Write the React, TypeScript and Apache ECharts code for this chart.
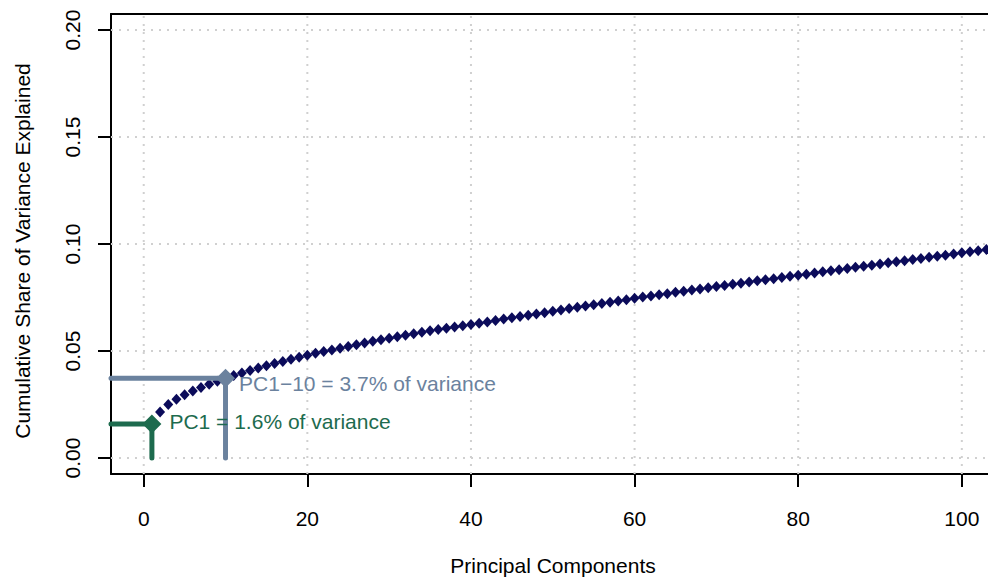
import React, { useEffect, useRef } from "react";
import * as echarts from "echarts";

const cumulativeShare: number[] = [
  0.0159, 0.0215, 0.025, 0.0274, 0.0295, 0.0313, 0.0329, 0.0344, 0.0358, 0.0372,
  0.0385, 0.0397, 0.0409, 0.042, 0.0431, 0.0441, 0.0451, 0.0461, 0.0471, 0.048,
  0.0489, 0.0497, 0.0505, 0.0513, 0.0521, 0.0529, 0.0537, 0.0545, 0.0552, 0.0559,
  0.0566, 0.0573, 0.058, 0.0587, 0.0594, 0.06, 0.0606, 0.0612, 0.0618, 0.0624,
  0.063, 0.0636, 0.0643, 0.0649, 0.0655, 0.0661, 0.0667, 0.0673, 0.0679, 0.0686,
  0.0692, 0.0698, 0.0704, 0.071, 0.0716, 0.0722, 0.0728, 0.0734, 0.074, 0.0746,
  0.0752, 0.0757, 0.0763, 0.0768, 0.0774, 0.0779, 0.0785, 0.079, 0.0796, 0.0801,
  0.0806, 0.0812, 0.0817, 0.0822, 0.0828, 0.0833, 0.0838, 0.0844, 0.0849, 0.0854,
  0.0859, 0.0865, 0.087, 0.0875, 0.088, 0.0886, 0.0891, 0.0896, 0.0901, 0.0907,
  0.0912, 0.0917, 0.0922, 0.0927, 0.0932, 0.0938, 0.0943, 0.0948, 0.0953, 0.0959,
  0.0964, 0.0969, 0.0974, 0.0979,
];

const xTicks: number[] = [0, 20, 40, 60, 80, 100];
const yTicks: number[] = [0, 0.05, 0.1, 0.15, 0.2];

const annotations = [
  { pc: 1, value: 0.0159, text: "PC1 = 1.6% of variance", color: "#1d6b4e", distance: 8, dy: -2 },
  { pc: 10, value: 0.0372, text: "PC1\u221210 = 3.7% of variance", color: "#6b829e", distance: 4, dy: 5 },
];

const X_MIN = -4;
const X_MAX = 103.2;
const Y_MIN = -0.0075;
const Y_MAX = 0.2075;

const FONT = "'Liberation Sans', Arial, Helvetica, sans-serif";

export default function App() {
  const ref = useRef<HTMLDivElement>(null);

  useEffect(() => {
    if (!ref.current) return;
    const chart = echarts.init(ref.current, undefined, { renderer: "svg" });

    const gridStyle = { color: "#d0d0d0", width: 2, type: [2, 6] as any };

    const gridSeries: any[] = [];
    xTicks.forEach((t) => {
      gridSeries.push({
        type: "line",
        data: [[t, Y_MIN], [t, Y_MAX]],
        showSymbol: false,
        silent: true,
        lineStyle: gridStyle,
        z: 1,
      });
    });
    yTicks.forEach((t) => {
      gridSeries.push({
        type: "line",
        data: [[X_MIN, t], [X_MAX, t]],
        showSymbol: false,
        silent: true,
        lineStyle: gridStyle,
        z: 1,
      });
    });

    const annSeries: any[] = [];
    annotations.forEach((a) => {
      annSeries.push({
        type: "line",
        data: [[X_MIN, a.value], [a.pc, a.value], [a.pc, 0]],
        showSymbol: false,
        silent: true,
        lineStyle: { color: a.color, width: 5, cap: "round", join: "miter", opacity: 1 },
        z: 4,
      });
      annSeries.push({
        type: "scatter",
        data: [[a.pc, a.value]],
        symbol: "diamond",
        symbolSize: 19,
        itemStyle: { color: a.color, opacity: 1 },
        silent: true,
        label: {
          show: true,
          position: "right",
          distance: a.distance,
          offset: [0, a.dy],
          formatter: a.text,
          color: a.color,
          opacity: 1,
          fontSize: 21,
          fontFamily: FONT,
        },
        z: 5,
      });
    });

    const option: any = {
      animation: false,
      grid: { left: 111, right: 0, top: 14, bottom: 106, containLabel: false },
      xAxis: [
        {
          type: "value",
          min: X_MIN,
          max: X_MAX,
          position: "bottom",
          axisLine: { show: true, onZero: false, lineStyle: { color: "#000", width: 2 } },
          axisTick: { show: true, customValues: xTicks, length: 13, lineStyle: { color: "#000", width: 2 } },
          axisLabel: {
            show: true,
            customValues: xTicks,
            margin: 34,
            fontSize: 21,
            color: "#000",
            fontFamily: FONT,
          },
          splitLine: { show: false },
        },
        {
          type: "value",
          min: X_MIN,
          max: X_MAX,
          position: "top",
          axisLine: { show: true, onZero: false, lineStyle: { color: "#000", width: 2 } },
          axisTick: { show: false },
          axisLabel: { show: false },
          splitLine: { show: false },
        },
      ],
      yAxis: {
        type: "value",
        min: Y_MIN,
        max: Y_MAX,
        axisLine: { show: true, onZero: false, lineStyle: { color: "#000", width: 2 } },
        axisTick: { show: true, customValues: yTicks, length: 13, lineStyle: { color: "#000", width: 2 } },
        axisLabel: {
          show: true,
          customValues: yTicks,
          rotate: 90,
          margin: 28,
          fontSize: 21,
          color: "#000",
          fontFamily: FONT,
          formatter: (v: number) => v.toFixed(2),
        },
        splitLine: { show: false },
      },
      graphic: [
        {
          type: "text",
          x: 553,
          y: 565,
          style: {
            text: "Principal Components",
            fontSize: 21,
            fontFamily: FONT,
            fill: "#000",
            align: "center",
            verticalAlign: "middle",
          },
        },
        {
          type: "text",
          x: 22,
          y: 251,
          rotation: Math.PI / 2,
          style: {
            text: "Cumulative Share of Variance Explained",
            fontSize: 21,
            fontFamily: FONT,
            fill: "#000",
            align: "center",
            verticalAlign: "middle",
          },
        },
      ],
      series: [
        ...gridSeries,
        {
          type: "scatter",
          data: cumulativeShare.map((v, i) => [i + 1, v]),
          symbol: "diamond",
          symbolSize: [10, 11],
          itemStyle: { color: "#0b0b5a", opacity: 1 },
          clip: true,
          z: 3,
        },
        ...annSeries,
      ],
    };

    chart.setOption(option);
    return () => chart.dispose();
  }, []);

  return (
    <div
      ref={ref}
      style={{ position: "absolute", left: 0, top: 0, width: 988, height: 580 }}
    />
  );
}
